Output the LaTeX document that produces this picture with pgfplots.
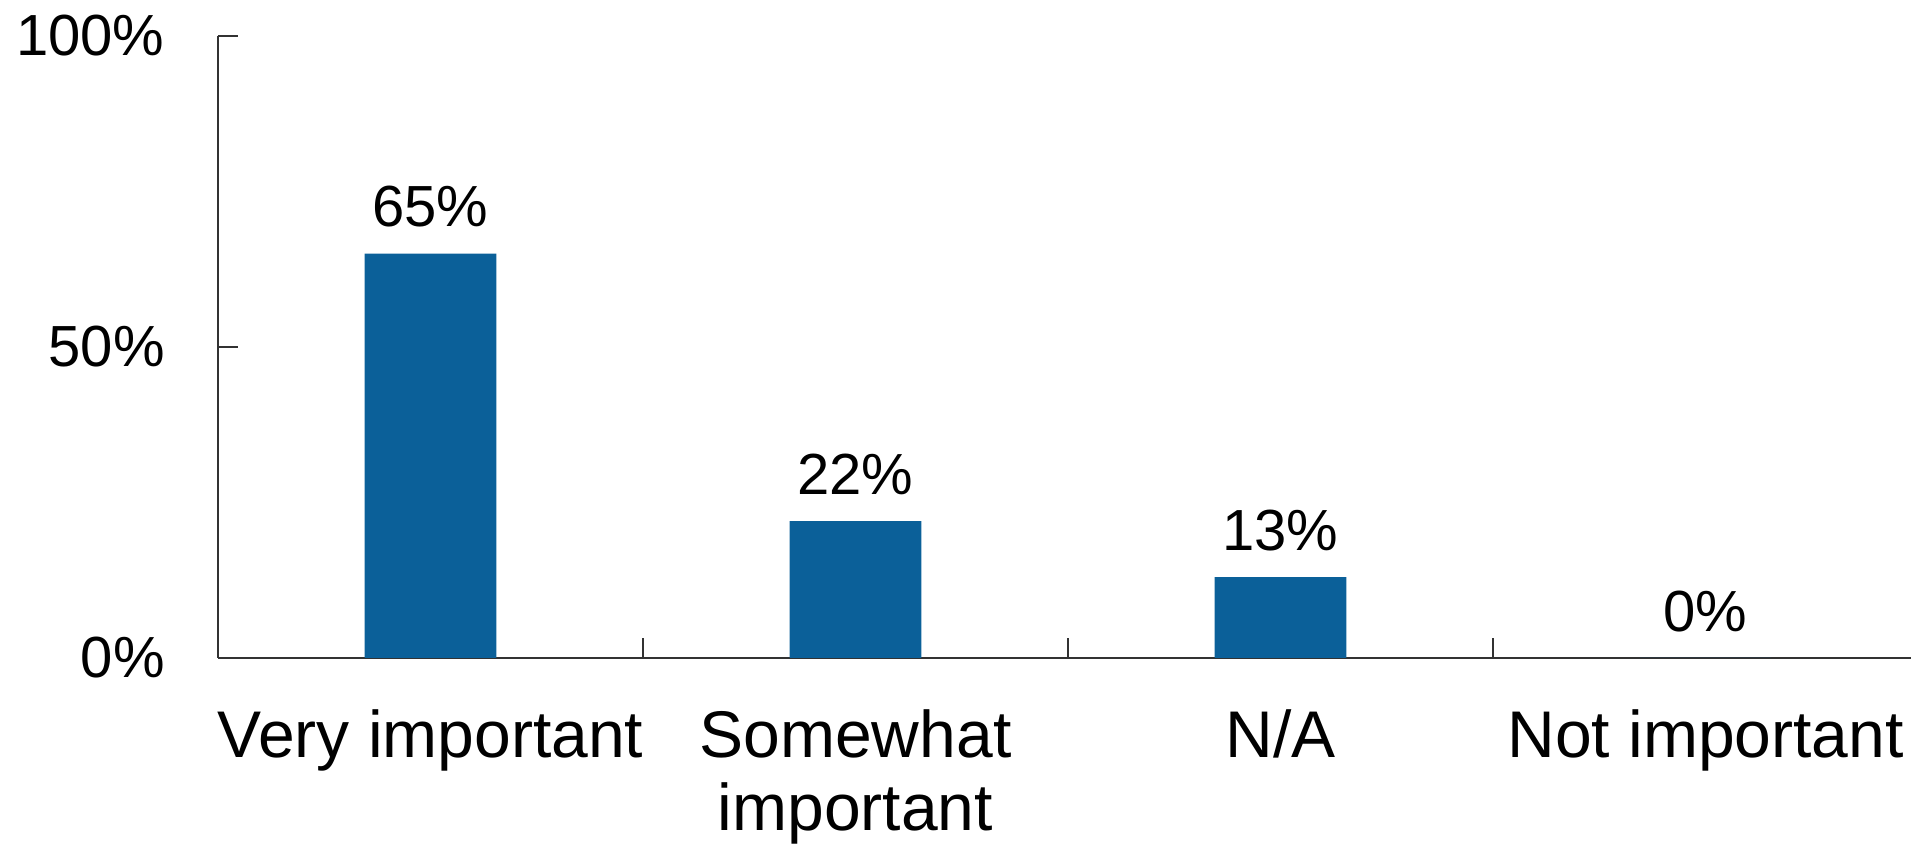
\documentclass[border=0pt]{standalone}
\usepackage{pgfplots}
\pgfplotsset{compat=1.18}
\usepackage{fontspec}
\setmainfont{Liberation Sans}
\definecolor{barblue}{RGB}{11,96,153}
\definecolor{axisgray}{RGB}{50,50,50}
\begin{document}
\begin{tikzpicture}
\useasboundingbox (-109pt,-93.5pt) rectangle (846.5pt,329pt);
\begin{axis}[
  at={(0,0)}, anchor=south west,
  scale only axis,
  width=846.5pt, height=311pt,
  xmin=-0.5, xmax=3.4835,
  ymin=0, ymax=100,
  ybar, bar width=0.31,
  axis x line=bottom, axis y line=left,
  axis line style={-, axisgray, line width=1.1pt},
  tick style={axisgray, line width=1pt},
  tick align=inside,
  major tick length=10pt,
  /pgf/number format/assume math mode=true,
  xtick={0.5,1.5,2.5},
  xticklabels={,,},
  extra x ticks={0,1,2,3},
  extra x tick labels={Very important, Somewhat\\important, N/A, Not important},
  extra x tick style={major tick length=0pt, grid=none},
  ytick={0,50,100},
  yticklabels={0\%,50\%,100\%},
  xticklabel style={font=\fontsize{33}{36.5}\selectfont, align=center, anchor=north, inner sep=0pt, yshift=-25.5pt, text=black},
  yticklabel style={font=\fontsize{29}{32}\selectfont, anchor=east, inner sep=0pt, xshift=-26.5pt, text=black},
  nodes near coords={\pgfmathprintnumber{\pgfplotspointmeta}\%},
  every node near coord/.append style={font=\fontsize{29}{32}\selectfont, text=black, inner sep=0pt, anchor=south, yshift=13pt},
]
\addplot[fill=barblue, draw=none] coordinates {(0,65) (1,22) (2,13) (3,0)};
\end{axis}
\end{tikzpicture}
\end{document}
